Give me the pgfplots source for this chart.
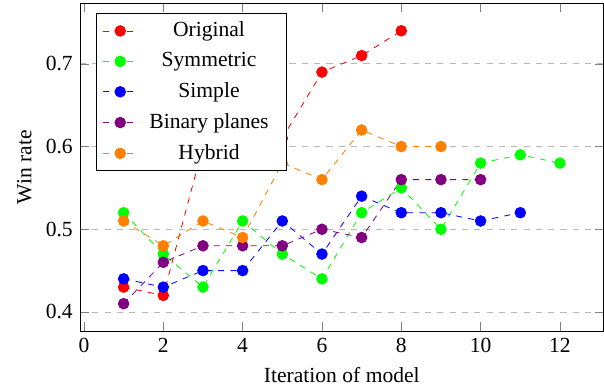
\documentclass[border=0pt]{standalone}
\usepackage{fontspec}
\setmainfont{Liberation Serif}
\usepackage{pgfplots}
\pgfplotsset{compat=1.18}
\definecolor{cOrig}{RGB}{255,0,0}
\definecolor{cSym}{RGB}{0,255,0}
\definecolor{cSimp}{RGB}{0,0,255}
\definecolor{cBin}{RGB}{128,0,128}
\definecolor{cHyb}{RGB}{255,128,0}
\begin{document}
\begin{tikzpicture}
\begin{axis}[
  scale only axis,
  width=255pt, height=159.5pt,
  xmin=-0.1, xmax=13.1,
  ymin=0.377, ymax=0.773,
  xtick={0,2,4,6,8,10,12},
  ytick={0.4,0.5,0.6,0.7},
  /pgf/number format/assume math mode=true,
  ymajorgrids,
  major grid style={dashed, gray!55},
  label style={font=\fontsize{10.5}{12.6}\selectfont},
  tick label style={font=\fontsize{10.5}{12.6}\selectfont},
  xlabel={Iteration of model},
  ylabel={Win rate},
  legend pos=north west,
  legend cell align=center,
  legend style={font=\fontsize{10.5}{12.6}\selectfont, row sep=2.2pt, nodes={inner xsep=5.5pt}},
  every axis plot/.append style={dashed, mark=*, mark size=2.6pt, mark options={solid}},
]
\addplot[color=cOrig, mark options={fill=cOrig, solid}] coordinates {
 (1,0.43) (2,0.42) (3,0.60) (4,0.58) (5,0.61) (6,0.69) (7,0.71) (8,0.74)};
\addlegendentry{Original}
\addplot[color=cSym, mark options={fill=cSym, solid}] coordinates {
 (1,0.52) (2,0.47) (3,0.43) (4,0.51) (5,0.47) (6,0.44) (7,0.52) (8,0.55) (9,0.50) (10,0.58) (11,0.59) (12,0.58)};
\addlegendentry{Symmetric}
\addplot[color=cSimp, mark options={fill=cSimp, solid}] coordinates {
 (1,0.44) (2,0.43) (3,0.45) (4,0.45) (5,0.51) (6,0.47) (7,0.54) (8,0.52) (9,0.52) (10,0.51) (11,0.52)};
\addlegendentry{Simple}
\addplot[color=cBin, mark options={fill=cBin, solid}] coordinates {
 (1,0.41) (2,0.46) (3,0.48) (4,0.48) (5,0.48) (6,0.50) (7,0.49) (8,0.56) (9,0.56) (10,0.56)};
\addlegendentry{Binary planes}
\addplot[color=cHyb, mark options={fill=cHyb, solid}] coordinates {
 (1,0.51) (2,0.48) (3,0.51) (4,0.49) (5,0.58) (6,0.56) (7,0.62) (8,0.60) (9,0.60)};
\addlegendentry{Hybrid}
\end{axis}
\path ([xshift=-5pt]current bounding box.west);
\path ([yshift=1.5pt]current bounding box.north);
\end{tikzpicture}
\end{document}
